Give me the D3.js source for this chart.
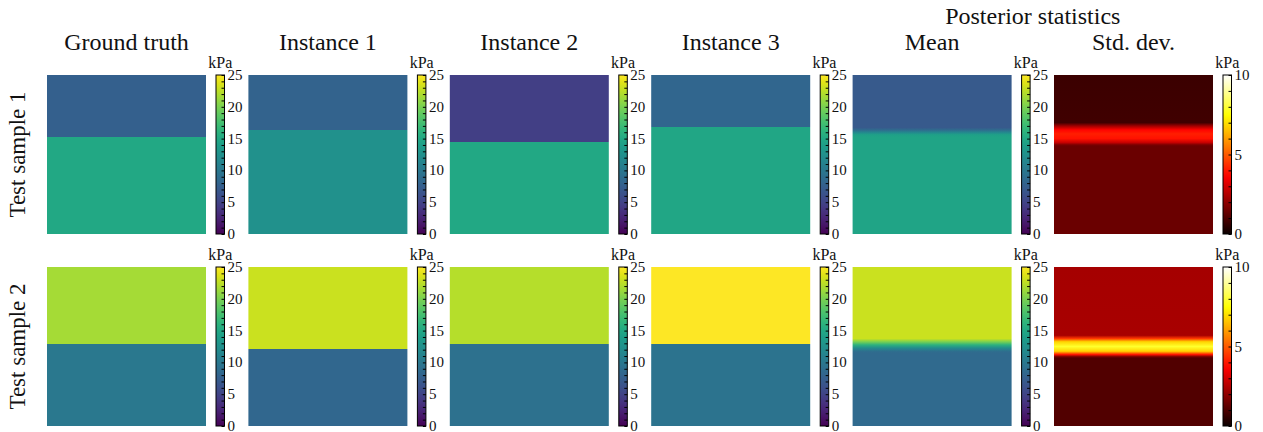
<!DOCTYPE html>
<html><head><meta charset="utf-8">
<script src="https://cdn.jsdelivr.net/npm/d3@7"></script>
<style>
body{margin:0;background:#fff}
text{font-family:"Times New Roman","Liberation Serif",Tinos,"Nimbus Roman","DejaVu Serif",serif;fill:#111}
</style></head>
<body><svg id="c" width="1263" height="432"></svg>
<script>
// ---- data ----
const columns = ["Ground truth", "Instance 1", "Instance 2", "Instance 3", "Mean", "Std. dev."];
const rowLabels = ["Test sample 1", "Test sample 2"];
const groupTitle = "Posterior statistics";
const unit = "kPa";
// depth profiles: [depth fraction from top, value in kPa]
const gt1   = [[0, 7.6], [0.39, 7.6], [0.39, 15.0], [1, 15.0]];
const inst11 = [[0, 7.9], [0.346, 7.9], [0.346, 12.5], [1, 12.5]];
const inst21 = [[0, 4.6], [0.42, 4.6], [0.42, 15.0], [1, 15.0]];
const inst31 = [[0, 8.2], [0.327, 8.2], [0.327, 14.8], [1, 14.8]];
const mean1 = [[0, 7.0], [0.33, 7.0], [0.345, 8.5], [0.36, 11.5], [0.375, 14.0], [0.39, 14.6], [1, 14.6]];
const std1  = [[0, 0.72], [0.30, 0.8], [0.32, 2.2], [0.345, 3.7], [0.37, 4.1], [0.40, 3.9], [0.425, 2.8], [0.44, 1.6], [0.45, 1.42], [1, 1.42]];
const gt2   = [[0, 21.6], [0.484, 21.6], [0.484, 10.0], [1, 10.0]];
const inst12 = [[0, 23.0], [0.516, 23.0], [0.516, 8.3], [1, 8.3]];
const inst22 = [[0, 22.2], [0.484, 22.2], [0.484, 9.2], [1, 9.2]];
const inst32 = [[0, 25.0], [0.484, 25.0], [0.484, 9.5], [1, 9.5]];
const mean2 = [[0, 23.0], [0.45, 23.0], [0.47, 20.0], [0.49, 16.0], [0.51, 12.0], [0.53, 9.0], [0.54, 8.5], [1, 8.5]];
const std2  = [[0, 2.3], [0.43, 2.35], [0.45, 4.5], [0.47, 6.8], [0.50, 7.9], [0.53, 6.8], [0.55, 4.0], [0.565, 1.5], [0.575, 1.05], [1, 1.05]];
const panels = [[gt1, inst11, inst21, inst31, mean1, std1], [gt2, inst12, inst22, inst32, mean2, std2]];
const ticksMain = [0, 5, 10, 15, 20, 25];
const ticksStd = [0, 5, 10];

// ---- colour maps ----
const clamp = v => Math.max(0, Math.min(1, v));
const hot = t => d3.rgb(255 * clamp(0.0416 + t * (1 - 0.0416) / 0.365079), 255 * clamp((t - 0.365079) / 0.380953), 255 * clamp((t - 0.746032) / 0.253968)) + "";
const cMain = d3.scaleSequential(d3.interpolateViridis).domain([0, 25]);
const cStd = d3.scaleSequential(hot).domain([0, 10]);

// ---- layout ----
const svg = d3.select("#c");
const defs = svg.append("defs");
const x0 = 47, dx = 201.4, pw = 159, ph = 159;
const rowY = [75, 267];
const cbOff = 169, cbW = 8.5;
const FONT = '"Times New Roman","Liberation Serif",Tinos,"DejaVu Serif",serif';

// titles
columns.forEach((c, i) => {
  svg.append("text").attr("x", x0 + dx * i + pw / 2).attr("y", 50).attr("text-anchor", "middle")
    .style("font-size", "24px").text(c);
});
svg.append("text").attr("x", (x0 + dx * 4 + x0 + dx * 5 + pw) / 2).attr("y", 24).attr("text-anchor", "middle")
  .style("font-size", "24px").text(groupTitle);
rowLabels.forEach((r, j) => {
  svg.append("text").attr("transform", `translate(25,${rowY[j] + ph / 2}) rotate(-90)`)
    .attr("text-anchor", "middle").style("font-size", "23px").text(r);
});

let gid = 0;
panels.forEach((row, j) => {
  row.forEach((prof, i) => {
    const isStd = i === 5;
    const cs = isStd ? cStd : cMain;
    const px = x0 + dx * i, py = rowY[j];
    const depth = d3.scaleLinear().domain([0, 1]).range([0, 100]);
    const id = "g" + (gid++);
    const grad = defs.append("linearGradient").attr("id", id).attr("x1", 0).attr("y1", 0).attr("x2", 0).attr("y2", 1);
    prof.forEach(([d, v]) => grad.append("stop").attr("offset", depth(d) + "%").attr("stop-color", cs(v)));
    svg.append("rect").attr("x", px).attr("y", py).attr("width", pw).attr("height", ph).attr("fill", `url(#${id})`);

    // colour bar
    const cbx = px + cbOff;
    const dom = cs.domain();
    const cid = "cb" + id;
    const cg = defs.append("linearGradient").attr("id", cid).attr("x1", 0).attr("y1", 1).attr("x2", 0).attr("y2", 0);
    d3.range(0, 1.0001, 0.05).forEach(t => cg.append("stop").attr("offset", (t * 100) + "%").attr("stop-color", cs(dom[0] + t * (dom[1] - dom[0]))));
    svg.append("rect").attr("x", cbx).attr("y", py).attr("width", cbW).attr("height", ph)
      .attr("fill", `url(#${cid})`).attr("stroke", "#000").attr("stroke-width", 1);
    const ys = d3.scaleLinear().domain(dom).range([py + ph, py]);
    const minor = svg.append("g").attr("transform", `translate(${cbx + cbW},0)`)
      .call(d3.axisRight(ys).tickValues(d3.range(dom[0], dom[1] + 1, 1)).tickSize(-3).tickFormat(""));
    minor.select(".domain").remove();
    minor.selectAll("line").attr("stroke", "#000");
    const major = svg.append("g").attr("transform", `translate(${cbx + cbW},0)`)
      .call(d3.axisRight(ys).tickValues(isStd ? ticksStd : ticksMain).tickSize(0).tickPadding(3));
    major.select(".domain").remove();
    major.attr("font-family", null);
    major.selectAll("text").style("font-size", "15px").style("font-family", FONT).attr("fill", "#111")
      .attr("dy", "0.3em");
    svg.append("text").attr("x", cbx + cbW / 2).attr("y", py - 7).attr("text-anchor", "middle")
      .style("font-size", "16px").text(unit);
  });
});
</script></body></html>
